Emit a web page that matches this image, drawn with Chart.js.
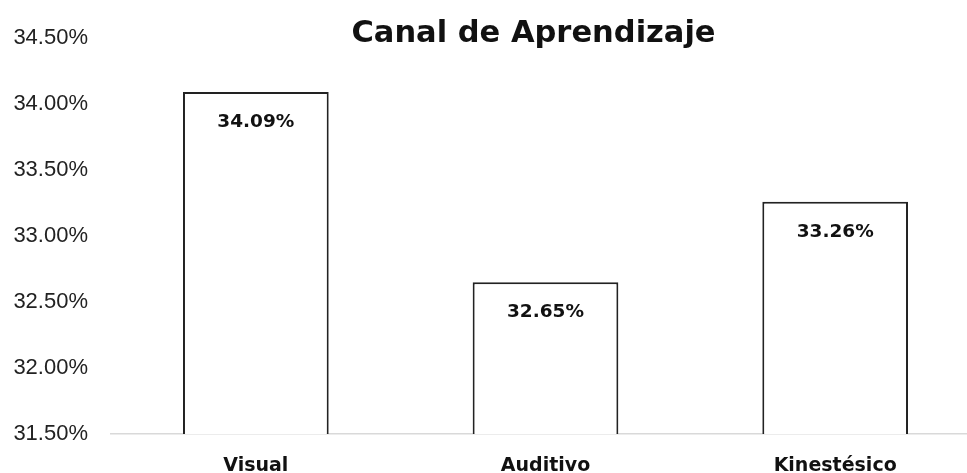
<!DOCTYPE html>
<html>
<head>
<meta charset="utf-8">
<script src="https://cdn.jsdelivr.net/npm/chart.js@4.4.1/dist/chart.umd.min.js"></script>
<style>
  html, body { margin: 0; padding: 0; background: #fff; overflow: hidden; }
  #wrap { position: relative; width: 985px; height: 480px; }
</style>
</head>
<body>
<div id="wrap"><canvas id="chart"></canvas></div>
<script>
/* ==== data ========================================================= */
const categories = ['Visual', 'Auditivo', 'Kinestésico'];
const values = [34.09, 32.65, 33.26];
const yMin = 31.5, yMax = 34.5, yStep = 0.5;
const titleText = 'Canal de Aprendizaje';

const boldFont = '"DejaVu Sans", "Liberation Sans", sans-serif';

/* ==== plugins ====================================================== */
// value labels inside the top of each bar
const barLabels = {
  id: 'barLabels',
  afterDatasetsDraw(chart) {
    const { ctx } = chart;
    ctx.save();
    ctx.font = 'bold 18.5px ' + boldFont;
    ctx.fillStyle = '#111';
    ctx.textAlign = 'center';
    ctx.textBaseline = 'alphabetic';
    chart.getDatasetMeta(0).data.forEach((bar, i) => {
      ctx.fillText(values[i].toFixed(2) + '%', bar.x, bar.y + 35);
    });
    ctx.restore();
  }
};

// Excel-style title overlapping the top of the plot
const overlayTitle = {
  id: 'overlayTitle',
  afterDraw(chart) {
    const { ctx, chartArea: a } = chart;
    ctx.save();
    ctx.font = 'bold 30.5px ' + boldFont;
    ctx.fillStyle = '#111';
    ctx.textAlign = 'center';
    ctx.textBaseline = 'alphabetic';
    ctx.fillText(titleText, (a.left + a.right) / 2 - 12, a.top + 4);
    ctx.restore();
  }
};

/* ==== chart ======================================================== */
new Chart(document.getElementById('chart'), {
  type: 'bar',
  data: {
    labels: categories,
    datasets: [{
      data: values,
      backgroundColor: '#ffffff',
      borderColor: '#222222',
      borderWidth: 2,
      barPercentage: 0.503,
      categoryPercentage: 1
    }]
  },
  options: {
    responsive: true, maintainAspectRatio: false, animation: false,
    layout: { padding: { top: 38, right: 5, left: 0, bottom: 0 } },
    plugins: { legend: { display: false }, tooltip: { enabled: false }, title: { display: false } },
    scales: {
      x: {
        grid: { display: false, drawTicks: false },
        border: { display: true, color: '#d9d9d9', width: 1.5 },
        ticks: { color: '#111', padding: 21, font: { family: boldFont, size: 19, weight: 'bold' } },
        afterFit: s => { s.height = 46; }
      },
      y: {
        min: yMin, max: yMax,
        grid: { display: false, drawTicks: false },
        border: { display: false },
        ticks: {
          stepSize: yStep, padding: 23, color: '#222',
          font: { family: '"Liberation Sans", Arial, sans-serif', size: 22 },
          callback: v => v.toFixed(2) + '%'
        },
        afterFit: s => { s.width = 111; }
      }
    }
  },
  plugins: [barLabels, overlayTitle]
});
</script>
</body>
</html>
